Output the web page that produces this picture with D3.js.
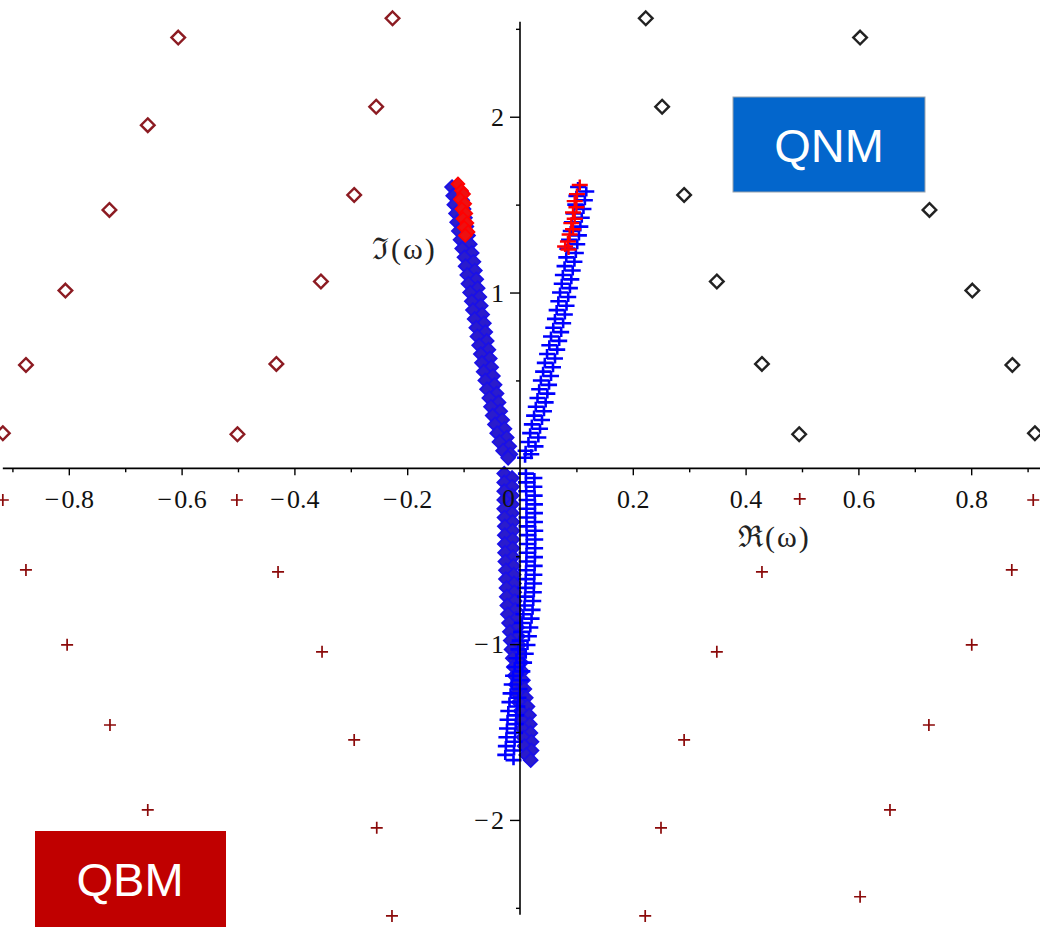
<!DOCTYPE html>
<html><head><meta charset="utf-8">
<script src="https://cdn.jsdelivr.net/npm/d3@7"></script>
<style>html,body{margin:0;padding:0;background:#fff;} svg{display:block;}</style>
</head><body>
<svg id="chart" width="1040" height="927"></svg>
<script>
// ---------- tick values ----------
const xTicksMajor = [-0.8,-0.6,-0.4,-0.2,0.2,0.4,0.6,0.8];
const xTicksMinor = [-0.9,-0.7,-0.5,-0.3,-0.1,0.1,0.3,0.5,0.7,0.9];
const yTicksMajor = [-2,-1,1,2];
const yTicksMinor = [-2.5,-1.5,-0.5,0.5,1.5,2.5];

// ---------- lattice of modes (re, im) ----------
const leftDiamonds = [ // dark red, upper left
  [-0.226,2.560],[-0.255,2.057],[-0.294,1.555],[-0.353,1.063],[-0.432,0.594],[-0.501,0.194],
  [-0.606,2.450],[-0.660,1.952],[-0.728,1.470],[-0.806,1.011],[-0.876,0.588],[-0.917,0.200]
];
const rightDiamonds = [ // black, upper right
  [0.223,2.560],[0.252,2.057],[0.291,1.555],[0.349,1.063],[0.429,0.594],[0.495,0.194],
  [0.603,2.450],[0.658,1.952],[0.726,1.470],[0.802,1.011],[0.873,0.588],[0.913,0.200]
];
const lowerPluses = [ // dark red, lower half
  [-0.917,-0.180],[-0.876,-0.578],[-0.803,-1.004],[-0.727,-1.460],[-0.660,-1.943],[-0.606,-2.437],
  [-0.502,-0.180],[-0.429,-0.589],[-0.351,-1.044],[-0.294,-1.545],[-0.254,-2.045],[-0.227,-2.546],
  [0.496,-0.174],[0.429,-0.589],[0.349,-1.044],[0.291,-1.545],[0.250,-2.045],[0.222,-2.546],
  [0.910,-0.180],[0.872,-0.578],[0.801,-1.004],[0.725,-1.460],[0.656,-1.943],[0.603,-2.437]
];

// ---------- dense branches near the axis (re, im) ----------
const upperDiamondBand = [
  [-0.1205,1.600],[-0.1045,1.575],[-0.1185,1.550],[-0.1025,1.525],[-0.1165,1.500],[-0.1000,1.475],[-0.1135,1.450],[-0.0975,1.425],
  [-0.1115,1.400],[-0.0950,1.375],[-0.1085,1.350],[-0.0920,1.325],[-0.1055,1.300],[-0.0890,1.275],[-0.1025,1.250],[-0.0855,1.225],
  [-0.0985,1.200],[-0.0825,1.175],[-0.0965,1.150],[-0.0800,1.125],[-0.0935,1.100],[-0.0775,1.075],[-0.0915,1.050],[-0.0750,1.025],
  [-0.0885,1.000],[-0.0720,0.975],[-0.0855,0.950],[-0.0695,0.925],[-0.0835,0.900],[-0.0670,0.875],[-0.0805,0.850],[-0.0640,0.825],
  [-0.0775,0.800],[-0.0615,0.775],[-0.0755,0.750],[-0.0590,0.725],[-0.0725,0.700],[-0.0560,0.675],[-0.0695,0.650],[-0.0535,0.625],
  [-0.0675,0.600],[-0.0510,0.575],[-0.0645,0.550],[-0.0480,0.525],[-0.0615,0.500],[-0.0450,0.475],[-0.0585,0.450],[-0.0415,0.425],
  [-0.0545,0.400],[-0.0380,0.375],[-0.0515,0.350],[-0.0350,0.325],[-0.0485,0.300],[-0.0315,0.275],[-0.0445,0.250],[-0.0275,0.225],
  [-0.0405,0.200],[-0.0235,0.175],[-0.0365,0.150],[-0.0190,0.125],[-0.0300,0.100],[-0.0170,0.080],[-0.0210,0.060]
];
const upperPlusBand = [
  [0.103,1.600],[0.1175,1.575],[0.100,1.550],[0.115,1.525],[0.098,1.500],[0.1125,1.475],[0.095,1.450],[0.1095,1.425],
  [0.092,1.400],[0.107,1.375],[0.090,1.350],[0.1045,1.325],[0.087,1.300],[0.1015,1.275],[0.084,1.250],[0.099,1.225],
  [0.082,1.200],[0.0965,1.175],[0.079,1.150],[0.0935,1.125],[0.076,1.100],[0.091,1.075],[0.074,1.050],[0.0885,1.025],
  [0.071,1.000],[0.0855,0.975],[0.068,0.950],[0.0825,0.925],[0.065,0.900],[0.0795,0.875],[0.062,0.850],[0.0765,0.825],
  [0.059,0.800],[0.073,0.775],[0.055,0.750],[0.0695,0.725],[0.052,0.700],[0.066,0.675],[0.048,0.650],[0.062,0.625],
  [0.044,0.600],[0.0585,0.575],[0.041,0.550],[0.055,0.525],[0.037,0.500],[0.0515,0.475],[0.034,0.450],[0.0485,0.425],
  [0.031,0.400],[0.0455,0.375],[0.028,0.350],[0.0425,0.325],[0.025,0.300],[0.039,0.275],[0.021,0.250],[0.0355,0.225],
  [0.018,0.200],[0.0325,0.175],[0.015,0.150],[0.0275,0.125],[0.010,0.100],[0.020,0.080],[0.009,0.060]
];
const lowerDiamondBand = [
  [-0.028,-0.030],[-0.014,-0.055],[-0.028,-0.080],[-0.014,-0.105],[-0.028,-0.130],[-0.014,-0.155],[-0.028,-0.180],[-0.014,-0.205],
  [-0.028,-0.230],[-0.014,-0.255],[-0.0275,-0.280],[-0.013,-0.305],[-0.027,-0.330],[-0.013,-0.355],[-0.027,-0.380],[-0.013,-0.405],
  [-0.027,-0.430],[-0.0128,-0.455],[-0.0265,-0.480],[-0.0125,-0.505],[-0.026,-0.530],[-0.0117,-0.555],[-0.025,-0.580],[-0.011,-0.605],
  [-0.025,-0.630],[-0.0105,-0.655],[-0.024,-0.680],[-0.010,-0.705],[-0.0235,-0.730],[-0.0093,-0.755],[-0.0225,-0.780],[-0.0085,-0.805],
  [-0.0215,-0.830],[-0.0067,-0.855],[-0.0195,-0.880],[-0.0048,-0.905],[-0.018,-0.930],[-0.0033,-0.955],[-0.0165,-0.980],[-0.0018,-1.005],
  [-0.015,-1.030],[0.0003,-1.055],[-0.0128,-1.080],[0.0022,-1.105],[-0.011,-1.130],[0.0037,-1.155],[-0.0096,-1.180],[0.0052,-1.205],
  [-0.0075,-1.230],[0.0078,-1.255],[-0.005,-1.280],[0.0103,-1.305],[-0.0022,-1.330],[0.0133,-1.355],[0.001,-1.380],[0.016,-1.405],
  [0.003,-1.430],[0.0175,-1.455],[0.0045,-1.480],[0.0185,-1.505],[0.006,-1.530],[0.0205,-1.555],[0.008,-1.580],[0.0205,-1.605],
  [0.011,-1.630],[0.019,-1.660]
];
const lowerPlusBand = [
  [0.0105,-0.030],[0.0255,-0.055],[0.0105,-0.080],[0.0255,-0.105],[0.011,-0.130],[0.026,-0.155],[0.0115,-0.180],[0.0265,-0.205],
  [0.0115,-0.230],[0.0265,-0.255],[0.0115,-0.280],[0.0265,-0.305],[0.0115,-0.330],[0.027,-0.355],[0.012,-0.380],[0.027,-0.405],
  [0.012,-0.430],[0.0268,-0.455],[0.0115,-0.480],[0.0265,-0.505],[0.0113,-0.530],[0.026,-0.555],[0.0107,-0.580],[0.0255,-0.605],
  [0.0102,-0.630],[0.025,-0.655],[0.0097,-0.680],[0.0245,-0.705],[0.009,-0.730],[0.0235,-0.755],[0.008,-0.780],[0.0223,-0.805],
  [0.006,-0.830],[0.0205,-0.855],[0.0035,-0.880],[0.0183,-0.905],[0.002,-0.930],[0.0158,-0.955],[-0.0005,-0.980],[0.0133,-1.005],
  [-0.003,-1.030],[0.0102,-1.055],[-0.0063,-1.080],[0.0072,-1.105],[-0.0093,-1.130],[0.0042,-1.155],[-0.0123,-1.180],[0.0012,-1.205],
  [-0.0147,-1.230],[-0.0007,-1.255],[-0.0167,-1.280],[-0.0027,-1.305],[-0.0187,-1.330],[-0.0047,-1.355],[-0.0207,-1.380],[-0.0067,-1.405],
  [-0.0221,-1.430],[-0.0076,-1.455],[-0.0231,-1.480],[-0.0086,-1.505],[-0.0241,-1.530],[-0.0096,-1.555],[-0.0251,-1.580],[-0.0106,-1.605],
  [-0.0261,-1.630],[-0.0115,-1.660]
];
const redDiamonds = [
  [-0.110,1.618],[-0.104,1.580],[-0.100,1.560],[-0.106,1.530],[-0.098,1.505],[-0.103,1.475],
  [-0.096,1.450],[-0.101,1.420],[-0.094,1.395],[-0.099,1.370],[-0.092,1.345],[-0.097,1.325]
];
const redPluses = [
  [0.106,1.612],[0.101,1.560],[0.097,1.520],[0.100,1.485],[0.094,1.455],[0.097,1.420],
  [0.091,1.395],[0.094,1.360],[0.088,1.330],[0.085,1.290],[0.080,1.262],[0.086,1.245]
];

// ---------- labels ----------
const xAxisLabel = "\u211C(\u03C9)";
const yAxisLabel = "\u2111(\u03C9)";
const boxQNM = "QNM";
const boxQBM = "QBM";

// ---------- drawing ----------
const W = 1040, H = 927;
const svg = d3.select("#chart");
const x = d3.scaleLinear().domain([-0.922, 0.922]).range([0, W]);
const y = d3.scaleLinear().domain([-2.609, 2.664]).range([H, 0]);

const diamondPath = r => `M0,${-r}L${r},0L0,${r}L${-r},0Z`;
const plusPath = (w, h) => `M${-w},0H${w}M0,${-h}V${h}`;

function drawMarkers(data, path, stroke, fill, sw) {
  svg.append("g").selectAll("path").data(data).join("path")
    .attr("transform", d => `translate(${x(d[0])},${y(d[1])})`)
    .attr("d", path)
    .attr("fill", fill)
    .attr("stroke", stroke)
    .attr("stroke-width", sw);
}

// lattice
drawMarkers(leftDiamonds, diamondPath(6.8), "#8c1b22", "none", 2.4);
drawMarkers(rightDiamonds, diamondPath(6.8), "#222", "none", 2.4);
drawMarkers(lowerPluses, plusPath(6, 6), "#8b0a0a", "none", 1.7);

// dense branches
drawMarkers(upperDiamondBand, diamondPath(7), "#1a10e8", "#2a1ccc", 1.6);
drawMarkers(lowerDiamondBand, diamondPath(7), "#1a10e8", "#2a1ccc", 1.6);
drawMarkers(upperPlusBand, plusPath(8, 5), "#0000ff", "none", 2.6);
drawMarkers(lowerPlusBand, plusPath(8, 5), "#0000ff", "none", 2.6);
drawMarkers(redDiamonds, diamondPath(6.5), "#ff0000", "#ee1010", 1.6);
drawMarkers(redPluses, plusPath(8, 5.5), "#ff0000", "none", 2.4);

// axes
const serif = "'Liberation Serif','DejaVu Serif','Times New Roman',serif";
const fmtX = d => (d < 0 ? "\u2212\u200A" : "") + Math.abs(d).toFixed(1);
const fmtY = d => (d < 0 ? "\u2212\u200A" : "") + Math.abs(d).toFixed(0);
const xMajor = svg.append("g").attr("transform", `translate(0,${y(0)})`)
  .call(d3.axisBottom(x).tickValues(xTicksMajor).tickSize(7).tickPadding(14).tickFormat(fmtX));
const xMinor = svg.append("g").attr("transform", `translate(0,${y(0)})`)
  .call(d3.axisBottom(x).tickValues(xTicksMinor).tickSize(4).tickFormat(""));
const yMajor = svg.append("g").attr("transform", `translate(${x(0)},0)`)
  .call(d3.axisLeft(y).tickValues(yTicksMajor).tickSize(10).tickPadding(6).tickFormat(fmtY));
const yMinor = svg.append("g").attr("transform", `translate(${x(0)},0)`)
  .call(d3.axisLeft(y).tickValues(yTicksMinor).tickSize(4).tickFormat(""));
[xMajor, xMinor, yMajor, yMinor].forEach(g => {
  g.select(".domain").remove();
  g.selectAll(".tick line").attr("stroke", "#000").attr("stroke-width", 1.4);
  g.selectAll("text").attr("font-family", serif).attr("font-size", 26).attr("fill", "#111");
});
yMajor.selectAll("text").attr("dy", "0.34em");

svg.append("line").attr("x1", x(-0.917)).attr("x2", x(0.922)).attr("y1", y(0)).attr("y2", y(0))
  .attr("stroke", "#000").attr("stroke-width", 1.6);
svg.append("line").attr("x1", x(0)).attr("x2", x(0)).attr("y1", y(2.54)).attr("y2", y(-2.54))
  .attr("stroke", "#000").attr("stroke-width", 1.6);

svg.append("text").attr("x", x(0) - 5).attr("y", y(0) + 39).attr("text-anchor", "end")
  .attr("font-family", serif).attr("font-size", 26).attr("fill", "#111").text("0");

svg.append("text").attr("x", x(0.451)).attr("y", y(-0.445)).attr("text-anchor", "middle")
  .attr("font-family", serif).attr("font-size", 30).attr("letter-spacing", 2).attr("fill", "#222").text(xAxisLabel);
svg.append("text").attr("x", x(-0.205)).attr("y", y(1.19)).attr("text-anchor", "middle")
  .attr("font-family", serif).attr("font-size", 30).attr("letter-spacing", 2).attr("fill", "#222").text(yAxisLabel);

// boxes
const sans = "'Liberation Sans',Arial,sans-serif";
svg.append("rect").attr("x", 733).attr("y", 97).attr("width", 192).attr("height", 95)
  .attr("fill", "#0366cc").attr("stroke", "#9aa3ad").attr("stroke-width", 1);
svg.append("text").attr("x", 829).attr("y", 162).attr("text-anchor", "middle")
  .attr("font-family", sans).attr("font-size", 47).attr("fill", "#fff").text(boxQNM);
svg.append("rect").attr("x", 35).attr("y", 831).attr("width", 191).attr("height", 96)
  .attr("fill", "#c00000");
svg.append("text").attr("x", 130).attr("y", 896).attr("text-anchor", "middle")
  .attr("font-family", sans).attr("font-size", 47).attr("fill", "#fff").text(boxQBM);
</script>
</body></html>
